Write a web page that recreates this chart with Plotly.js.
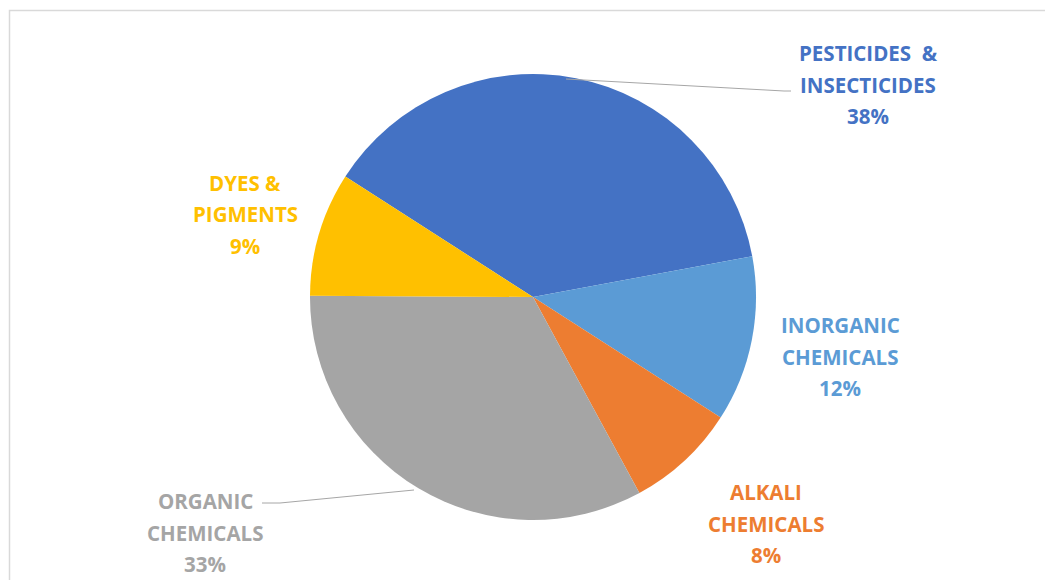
<!DOCTYPE html>
<html><head><meta charset="utf-8">
<script src="https://cdn.plot.ly/plotly-3.0.1.min.js"></script>
<style>html,body{margin:0;padding:0;background:#fff;}</style>
</head><body>
<div id="chart" style="width:1045px;height:580px;"></div>
<script>
const categories = ["PESTICIDES  &|INSECTICIDES", "INORGANIC|CHEMICALS", "ALKALI|CHEMICALS", "ORGANIC|CHEMICALS", "DYES &|PIGMENTS"];
const values = [38, 12, 8, 33, 9];
const colors = ["#4472C4", "#5B9BD5", "#ED7D31", "#A5A5A5", "#FFC000"];
// label text anchor centers (pixels) and first-line centers
const labelPos = [[868, 53], [840, 325], [766, 492], [205, 501], [245, 183]];

const W = 1045, H = 580;
const px = x => x / W, py = y => 1 - y / H;
const total = values.reduce((a, b) => a + b, 0);

const annotations = [];
categories.forEach((c, i) => {
  const lines = c.split("|").concat([Math.round(values[i] / total * 100) + "%"]);
  lines.forEach((t, j) => {
    annotations.push({
      xref: "paper", yref: "paper", x: px(labelPos[i][0]), y: py(labelPos[i][1] + j * 31.5),
      xanchor: "center", yanchor: "middle", showarrow: false, text: t,
      font: {family: "Open Sans, sans-serif", size: 20.5, color: colors[i], weight: "bold"}
    });
  });
});

const shapes = [
  {type: "path", xref: "paper", yref: "paper",
   path: `M ${px(566)} ${py(79)} L ${px(784)} ${py(91)} L ${px(791)} ${py(91)}`,
   line: {color: "#A6A6A6", width: 1}},
  {type: "path", xref: "paper", yref: "paper",
   path: `M ${px(414)} ${py(490)} L ${px(280)} ${py(503)} L ${px(262)} ${py(503)}`,
   line: {color: "#A6A6A6", width: 1}},
  {type: "path", xref: "paper", yref: "paper",
   path: `M ${px(9.5)} ${py(600)} L ${px(9.5)} ${py(10.5)} L ${px(1060)} ${py(10.5)}`,
   line: {color: "#D9D9D9", width: 1.5}}
];

const trace = {
  type: "pie", values: values, labels: categories.map(c => c.replace("|", " ")),
  marker: {colors: colors, line: {width: 0}},
  sort: false, direction: "clockwise", rotation: -57.3,
  textinfo: "none", hoverinfo: "label+percent",
  domain: {x: [px(310), px(756)], y: [py(520), py(74)]}
};

Plotly.newPlot("chart", [trace], {
  width: W, height: H, margin: {l: 0, r: 0, t: 0, b: 0},
  showlegend: false, paper_bgcolor: "#fff",
  annotations: annotations, shapes: shapes
}, {displayModeBar: false, staticPlot: true});
</script>
</body></html>
